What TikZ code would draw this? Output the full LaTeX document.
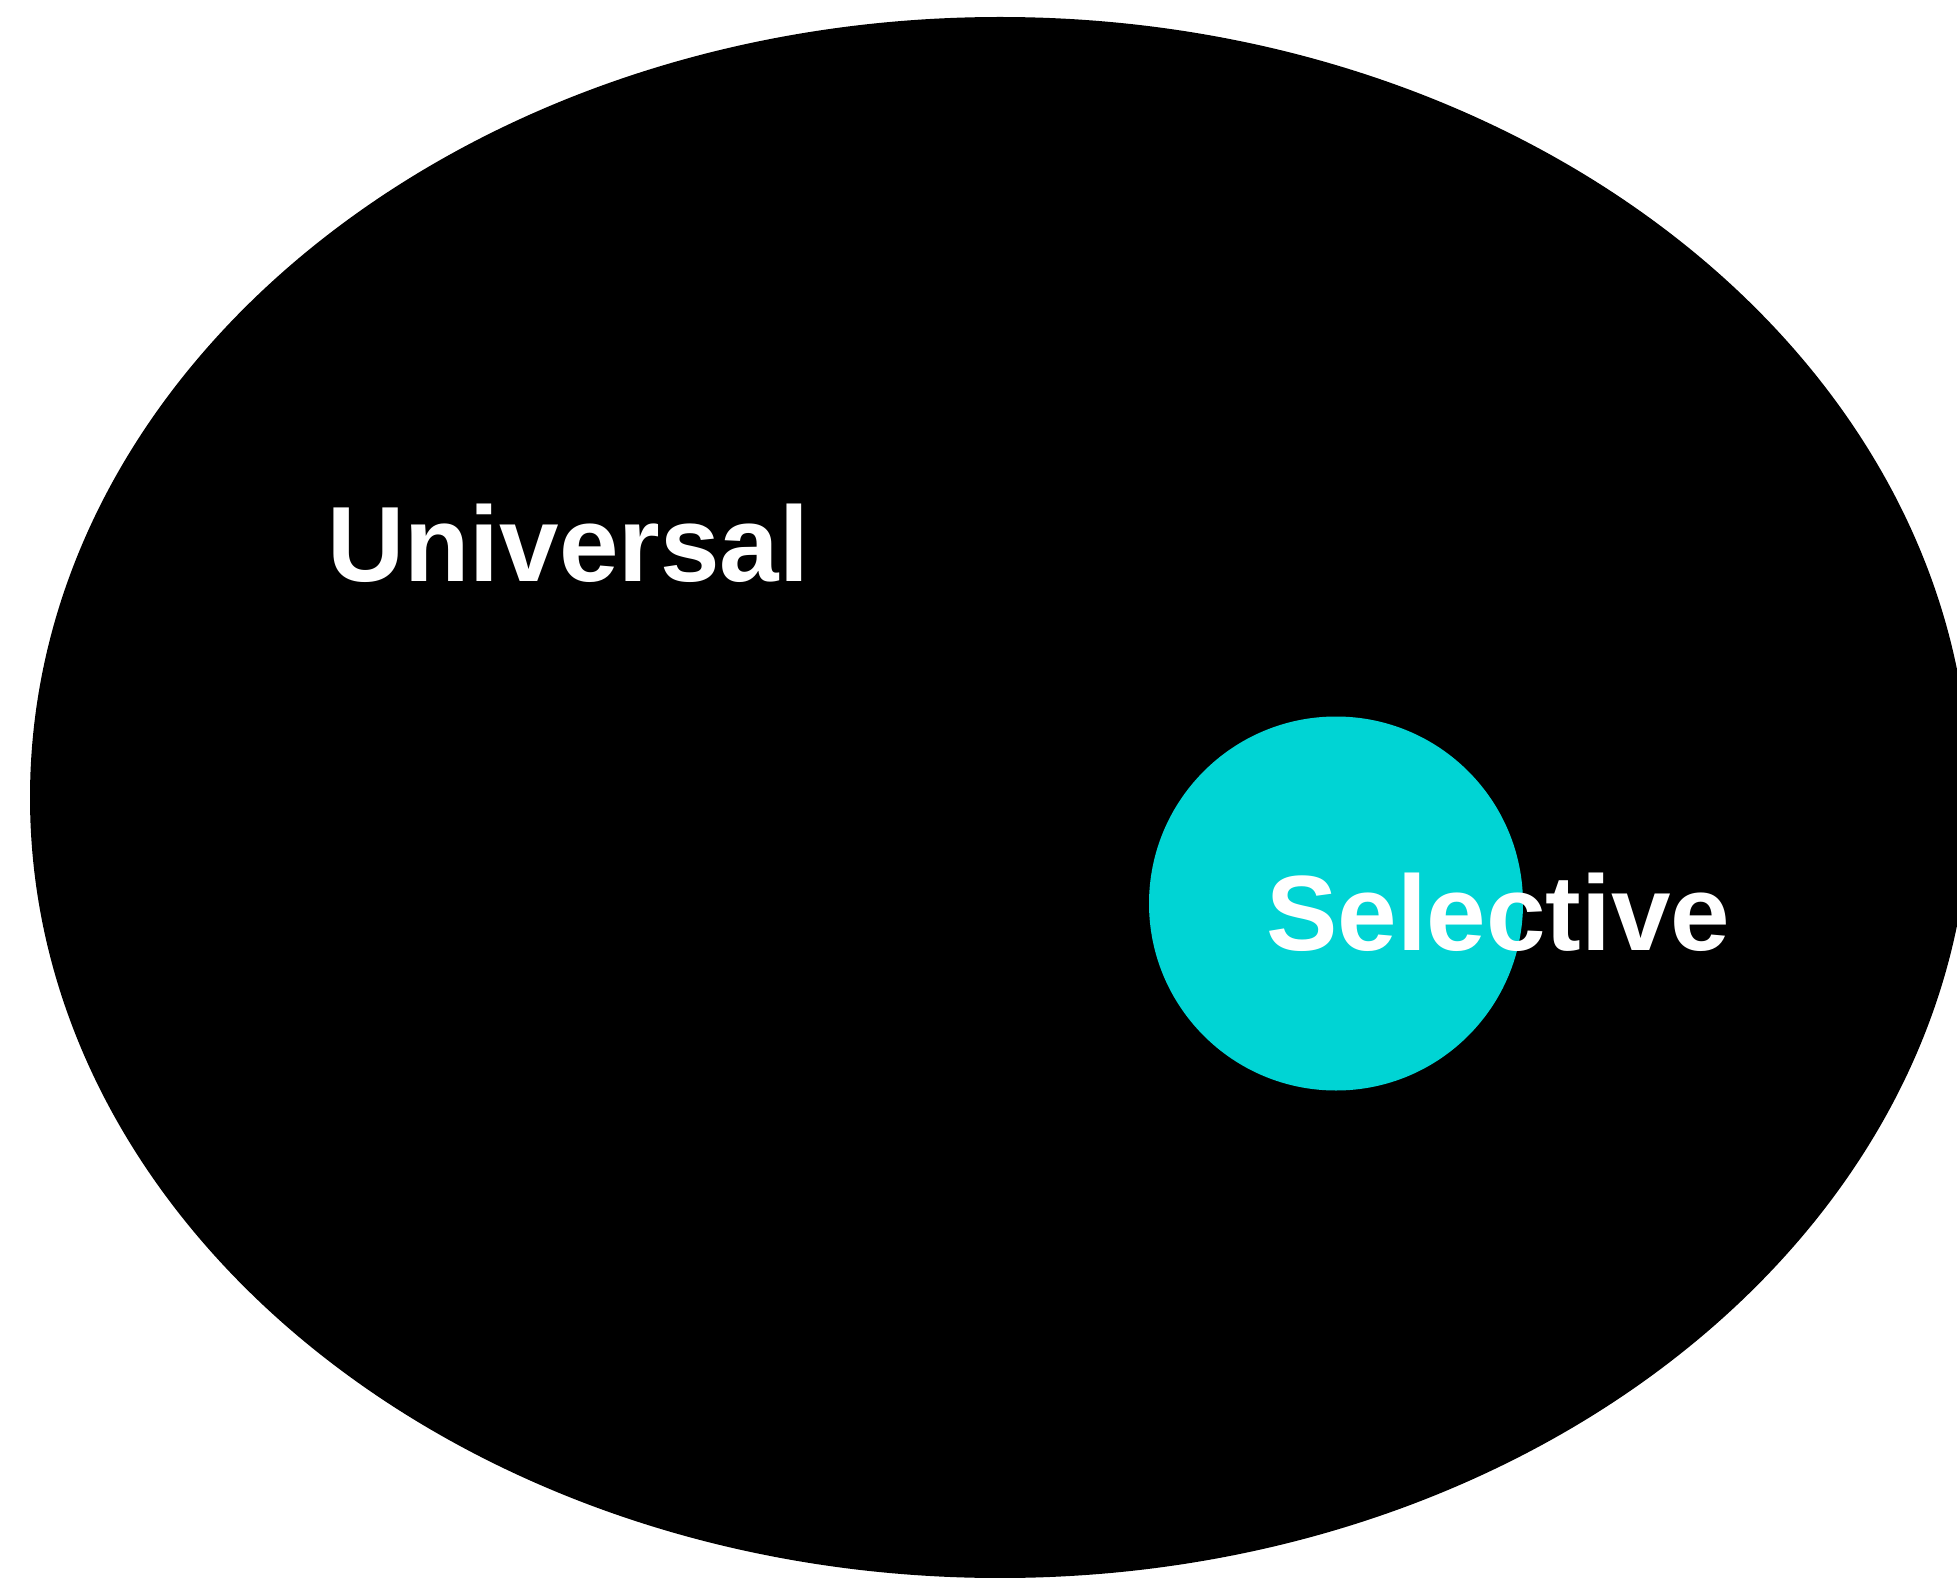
\documentclass[tikz,border=0pt]{standalone}
\usepackage{fontspec}
\setsansfont{Liberation Sans}
\usetikzlibrary{shapes.geometric}
\definecolor{setfill}{HTML}{000000}
\definecolor{subsetfill}{HTML}{00D4D4}
\definecolor{labeltext}{HTML}{FFFFFF}
\tikzset{
  outerset/.style={ellipse, fill=setfill, draw=none, inner sep=0pt,
                   minimum width=1940pt, minimum height=1561pt},
  innerset/.style={circle, fill=subsetfill, draw=none, inner sep=0pt,
                   minimum size=374pt},
  setlabel/.style={font=\sffamily\bfseries\fontsize{107}{120}\selectfont,
                   text=labeltext, inner sep=0pt, anchor=base west},
}

\begin{document}
\begin{tikzpicture}[x=1pt, y=-1pt]

% Page frame
\useasboundingbox (0,0) rectangle (1957,1578);
\clip (0,0) rectangle (1957,1578);

% Sets
\node[outerset] (universal) at (1000,797.5) {};
\node[innerset] (selective) at (1336,903.5) {};

% Labels
\node[setlabel] (universallabel) at (327,581) {Universal};
\node[setlabel] (selectivelabel) at (1266,950) {Selective};

\end{tikzpicture}
\end{document}
